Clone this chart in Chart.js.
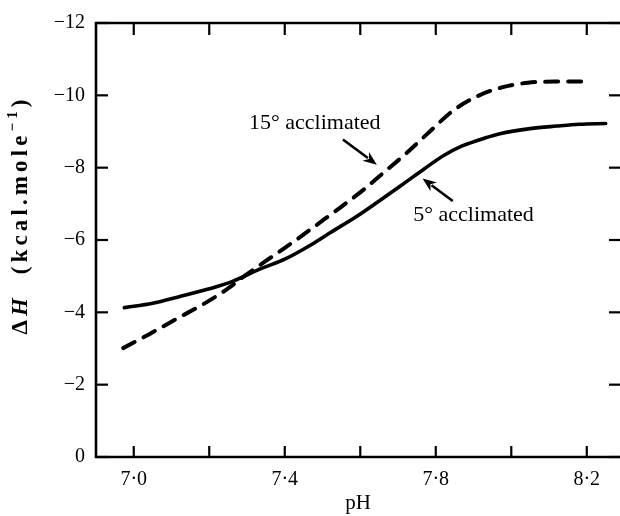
<!DOCTYPE html>
<html><head><meta charset="utf-8">
<script src="https://cdn.jsdelivr.net/npm/chart.js@4"></script>
<style>
html,body{margin:0;padding:0;background:#fff;overflow:hidden;}
#wrap{width:620px;height:516px;position:relative;}
</style></head><body>
<div id="wrap"><canvas id="c"></canvas></div>
<script>
// ---- data ----
const phTicks = [7.0, 7.2, 7.4, 7.6, 7.8, 8.0, 8.2];
const phTickLabels = ['7·0', '', '7·4', '', '7·8', '', '8·2'];
const dhTicks = [-12, -10, -8, -6, -4, -2, 0];
const dhTickLabels = ['\u221212', '\u221210', '\u22128', '\u22126', '\u22124', '\u22122', '0'];

const ph5 = [6.975, 7.05, 7.12, 7.20, 7.26, 7.34, 7.40, 7.47, 7.52, 7.59, 7.65, 7.71, 7.77, 7.82, 7.87, 7.93, 7.97, 8.05, 8.12, 8.18, 8.25];
const dh5 = [-4.13, -4.25, -4.43, -4.65, -4.85, -5.22, -5.47, -5.87, -6.20, -6.65, -7.08, -7.52, -7.97, -8.33, -8.60, -8.82, -8.94, -9.08, -9.15, -9.20, -9.22];

const ph15 = [6.972, 7.04, 7.11, 7.18, 7.25, 7.29, 7.35, 7.43, 7.49, 7.546, 7.604, 7.657, 7.72, 7.776, 7.845, 7.909, 7.975, 8.044, 8.115, 8.19];
const dh15 = [-3.01, -3.39, -3.80, -4.20, -4.66, -4.98, -5.42, -6.00, -6.46, -6.89, -7.35, -7.82, -8.38, -8.92, -9.57, -9.97, -10.22, -10.35, -10.38, -10.38];

const seriesNames = ['5° acclimated', '15° acclimated'];

// ---- helpers ----
const SERIF = '"Liberation Serif", "Times New Roman", serif';
const toXY = (xs, ys) => xs.map((v, i) => ({x: v, y: ys[i]}));

// annotation anchors in data units (pH, ΔH)
const notes = [
  {text: seriesNames[1], at: [7.4795, -9.24], from: [7.554, -8.78], to: [7.644, -8.08]},
  {text: seriesNames[0], at: [7.90, -6.68], from: [7.845, -7.08], to: [7.765, -7.70]}
];

const framePlugin = {
  id: 'frame',
  afterDraw(chart) {
    const {ctx, chartArea: a, scales: {x, y}} = chart;
    const rightEdge = a.right + 2; // original frame's right side falls just outside the picture
    ctx.save();
    ctx.strokeStyle = '#000';
    ctx.fillStyle = '#000';
    // frame
    ctx.lineWidth = 2.6;
    ctx.lineJoin = 'miter';
    ctx.beginPath();
    ctx.moveTo(a.left, a.top); ctx.lineTo(rightEdge, a.top);
    ctx.lineTo(rightEdge, a.bottom); ctx.lineTo(a.left, a.bottom);
    ctx.closePath();
    ctx.stroke();
    // inward ticks
    ctx.lineWidth = 2.2;
    const seg = (x1, y1, x2, y2) => { ctx.beginPath(); ctx.moveTo(x1, y1); ctx.lineTo(x2, y2); ctx.stroke(); };
    phTicks.forEach(v => {
      const px = x.getPixelForValue(v);
      seg(px, a.bottom, px, a.bottom - 11);
      seg(px, a.top, px, a.top + 12);
    });
    dhTicks.forEach(v => {
      const py = y.getPixelForValue(v);
      seg(a.left, py, a.left + 12, py);
      seg(rightEdge, py, rightEdge - 13, py);
    });
    // annotations
    ctx.font = '22px ' + SERIF;
    ctx.textAlign = 'center';
    ctx.textBaseline = 'middle';
    notes.forEach(n => {
      ctx.fillText(n.text, x.getPixelForValue(n.at[0]), y.getPixelForValue(n.at[1]));
      const x1 = x.getPixelForValue(n.from[0]), y1 = y.getPixelForValue(n.from[1]);
      const x2 = x.getPixelForValue(n.to[0]), y2 = y.getPixelForValue(n.to[1]);
      const ang = Math.atan2(y2 - y1, x2 - x1);
      const hl = 14, hw = 5.5;
      ctx.lineWidth = 2.6;
      seg(x1, y1, x2 - Math.cos(ang) * hl * 0.8, y2 - Math.sin(ang) * hl * 0.8);
      ctx.beginPath();
      ctx.moveTo(x2, y2);
      ctx.lineTo(x2 - Math.cos(ang) * hl - Math.sin(ang) * hw, y2 - Math.sin(ang) * hl + Math.cos(ang) * hw);
      ctx.lineTo(x2 - Math.cos(ang) * hl * 0.7, y2 - Math.sin(ang) * hl * 0.7);
      ctx.lineTo(x2 - Math.cos(ang) * hl + Math.sin(ang) * hw, y2 - Math.sin(ang) * hl - Math.cos(ang) * hw);
      ctx.closePath();
      ctx.fill();
    });
    // y-axis title
    const parts = [
      {t: 'Δ', f: 'bold 23px ' + SERIF, dy: 0},
      {t: 'H', f: 'bold italic 23px ' + SERIF, dy: 0},
      {t: '  (kcal.mole', f: 'bold 23px ' + SERIF, dy: 0},
      {t: '\u22121', f: 'bold 15px ' + SERIF, dy: -8},
      {t: ')', f: 'bold 23px ' + SERIF, dy: 0}
    ];
    const target = 235;
    let natural = 0, nch = 0;
    parts.forEach(p => { ctx.font = p.f; natural += ctx.measureText(p.t).width; nch += [...p.t].length; });
    const ls = Math.max(0, (target - natural) / (nch - 1));
    ctx.translate(20, 217);
    ctx.rotate(-Math.PI / 2);
    ctx.textAlign = 'left';
    ctx.textBaseline = 'middle';
    let cx = -target / 2;
    parts.forEach(p => {
      ctx.font = p.f;
      [...p.t].forEach(ch => {
        ctx.fillText(ch, cx, p.dy + 1);
        cx += ctx.measureText(ch).width + ls;
      });
    });
    ctx.restore();
  }
};

new Chart(document.getElementById('c'), {
  type: 'line',
  data: {
    datasets: [
      {label: seriesNames[0], data: toXY(ph5, dh5), borderColor: '#000', borderWidth: 3.6,
       pointRadius: 0, fill: false, cubicInterpolationMode: 'monotone', borderCapStyle: 'round'},
      {label: seriesNames[1], data: toXY(ph15, dh15), borderColor: '#000', borderWidth: 4,
       borderDash: [13, 10], pointRadius: 0, fill: false, cubicInterpolationMode: 'monotone', borderCapStyle: 'round'}
    ]
  },
  options: {
    responsive: true, maintainAspectRatio: false, animation: false,
    layout: {padding: {left: 0, right: 0, top: 13, bottom: 0}},
    plugins: {legend: {display: false}, tooltip: {enabled: false}},
    scales: {
      x: {
        type: 'linear', min: 6.9, max: 8.288,
        grid: {display: false, drawTicks: false}, border: {display: false},
        afterBuildTicks: s => { s.ticks = phTicks.map(v => ({value: v})); },
        afterFit: s => { s.height = 59; },
        ticks: {autoSkip: false, maxRotation: 0, padding: 11, color: '#000',
                font: {family: SERIF, size: 20}, callback: (v, i) => phTickLabels[i]},
        title: {display: true, text: 'pH', color: '#000', font: {family: SERIF, size: 21}, padding: {top: 0, bottom: 0}}
      },
      y: {
        type: 'linear', reverse: true, min: -12, max: 0,
        grid: {display: false, drawTicks: false}, border: {display: false},
        afterBuildTicks: s => { s.ticks = dhTicks.map(v => ({value: v})); },
        afterFit: s => { s.width = 96; },
        ticks: {autoSkip: false, padding: 11, color: '#000',
                font: {family: SERIF, size: 20}, callback: (v, i) => dhTickLabels[i]}
      }
    }
  },
  plugins: [framePlugin]
});
</script>
</body></html>
